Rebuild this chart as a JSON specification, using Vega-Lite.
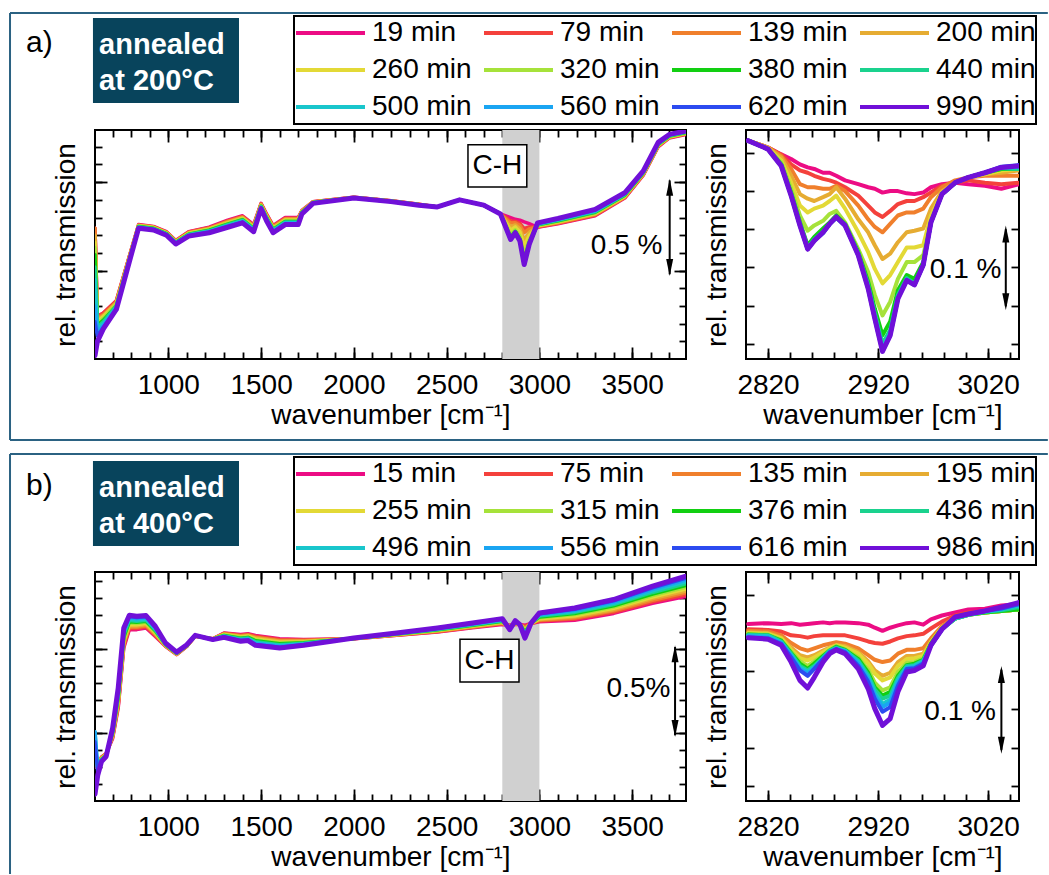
{
"$schema":"https://vega.github.io/schema/vega-lite/v6.json",
"padding":{"left":8,"top":10,"right":0,"bottom":0},
"background":"white",
"config":{
 "font":"Liberation Sans",
 "view":{"stroke":"black","strokeWidth":2},
 "axis":{"domain":false,"grid":false,"tickColor":"black","tickWidth":1.8,"labelFont":"Liberation Sans","labelFontSize":28,"labelColor":"black","titleFont":"Liberation Sans","titleFontSize":28,"titleFontWeight":"normal","titleColor":"black","labelFlush":false,"labelOverlap":false,"labelBound":false},
 "legend":{"strokeWidth":2},
 "text":{"font":"Liberation Sans","fontSize":28,"color":"black"}
},
"datasets":{
"namesA":[{"k":0,"s":"19 min"},{"k":1,"s":"79 min"},{"k":2,"s":"139 min"},{"k":3,"s":"200 min"},{"k":4,"s":"260 min"},{"k":5,"s":"320 min"},{"k":6,"s":"380 min"},{"k":7,"s":"440 min"},{"k":8,"s":"500 min"},{"k":9,"s":"560 min"},{"k":10,"s":"620 min"},{"k":11,"s":"990 min"}],
"namesB":[{"k":0,"s":"15 min"},{"k":1,"s":"75 min"},{"k":2,"s":"135 min"},{"k":3,"s":"195 min"},{"k":4,"s":"255 min"},{"k":5,"s":"315 min"},{"k":6,"s":"376 min"},{"k":7,"s":"436 min"},{"k":8,"s":"496 min"},{"k":9,"s":"556 min"},{"k":10,"s":"616 min"},{"k":11,"s":"986 min"}],
"bigA":[
{"k":0,"w":605,"v":740},{"k":1,"w":605,"v":740},{"k":2,"w":605,"v":740},{"k":3,"w":605,"v":700},{"k":4,"w":605,"v":660},{"k":5,"w":605,"v":630},{"k":6,"w":605,"v":590},{"k":7,"w":605,"v":520},{"k":8,"w":605,"v":450},{"k":9,"w":605,"v":300},{"k":10,"w":605,"v":210},{"k":11,"w":605,"v":20},
{"k":0,"w":618,"v":240},{"k":1,"w":618,"v":240},{"k":2,"w":618,"v":230},{"k":3,"w":618,"v":220},{"k":4,"w":618,"v":210},{"k":5,"w":618,"v":200},{"k":6,"w":618,"v":190},{"k":7,"w":618,"v":180},{"k":8,"w":618,"v":170},{"k":9,"w":618,"v":150},{"k":10,"w":618,"v":130},{"k":11,"w":618,"v":100},
{"k":0,"w":650,"v":260},{"k":1,"w":650,"v":260},{"k":2,"w":650,"v":250},{"k":3,"w":650,"v":245},{"k":4,"w":650,"v":240},{"k":5,"w":650,"v":230},{"k":6,"w":650,"v":220},{"k":7,"w":650,"v":210},{"k":8,"w":650,"v":200},{"k":9,"w":650,"v":190},{"k":10,"w":650,"v":180},{"k":11,"w":650,"v":170},
{"k":0,"w":720,"v":330},{"k":1,"w":720,"v":330},{"k":2,"w":720,"v":320},{"k":3,"w":720,"v":320},{"k":4,"w":720,"v":310},{"k":5,"w":720,"v":310},{"k":6,"w":720,"v":300},{"k":7,"w":720,"v":300},{"k":8,"w":720,"v":290},{"k":9,"w":720,"v":290},{"k":10,"w":720,"v":280},{"k":11,"w":720,"v":280},
{"k":0,"w":790,"v":580},{"k":1,"w":790,"v":580},{"k":2,"w":790,"v":580},{"k":3,"w":790,"v":570},{"k":4,"w":790,"v":570},{"k":5,"w":790,"v":570},{"k":6,"w":790,"v":560},{"k":7,"w":790,"v":560},{"k":8,"w":790,"v":560},{"k":9,"w":790,"v":550},{"k":10,"w":790,"v":550},{"k":11,"w":790,"v":550},
{"k":0,"w":840,"v":760},{"k":1,"w":840,"v":758},{"k":2,"w":840,"v":756},{"k":3,"w":840,"v":755},{"k":4,"w":840,"v":753},{"k":5,"w":840,"v":751},{"k":6,"w":840,"v":749},{"k":7,"w":840,"v":747},{"k":8,"w":840,"v":745},{"k":9,"w":840,"v":744},{"k":10,"w":840,"v":742},{"k":11,"w":840,"v":740},
{"k":0,"w":920,"v":750},{"k":1,"w":920,"v":748},{"k":2,"w":920,"v":746},{"k":3,"w":920,"v":745},{"k":4,"w":920,"v":743},{"k":5,"w":920,"v":741},{"k":6,"w":920,"v":739},{"k":7,"w":920,"v":737},{"k":8,"w":920,"v":735},{"k":9,"w":920,"v":734},{"k":10,"w":920,"v":732},{"k":11,"w":920,"v":730},
{"k":0,"w":990,"v":720},{"k":1,"w":990,"v":718},{"k":2,"w":990,"v":716},{"k":3,"w":990,"v":715},{"k":4,"w":990,"v":713},{"k":5,"w":990,"v":711},{"k":6,"w":990,"v":709},{"k":7,"w":990,"v":707},{"k":8,"w":990,"v":705},{"k":9,"w":990,"v":704},{"k":10,"w":990,"v":702},{"k":11,"w":990,"v":700},
{"k":0,"w":1040,"v":670},{"k":1,"w":1040,"v":668},{"k":2,"w":1040,"v":666},{"k":3,"w":1040,"v":665},{"k":4,"w":1040,"v":663},{"k":5,"w":1040,"v":661},{"k":6,"w":1040,"v":659},{"k":7,"w":1040,"v":657},{"k":8,"w":1040,"v":655},{"k":9,"w":1040,"v":654},{"k":10,"w":1040,"v":652},{"k":11,"w":1040,"v":650},
{"k":0,"w":1110,"v":720},{"k":1,"w":1110,"v":718},{"k":2,"w":1110,"v":715},{"k":3,"w":1110,"v":713},{"k":4,"w":1110,"v":711},{"k":5,"w":1110,"v":709},{"k":6,"w":1110,"v":706},{"k":7,"w":1110,"v":704},{"k":8,"w":1110,"v":702},{"k":9,"w":1110,"v":700},{"k":10,"w":1110,"v":697},{"k":11,"w":1110,"v":695},
{"k":0,"w":1220,"v":745},{"k":1,"w":1220,"v":742},{"k":2,"w":1220,"v":739},{"k":3,"w":1220,"v":737},{"k":4,"w":1220,"v":734},{"k":5,"w":1220,"v":731},{"k":6,"w":1220,"v":728},{"k":7,"w":1220,"v":725},{"k":8,"w":1220,"v":722},{"k":9,"w":1220,"v":720},{"k":10,"w":1220,"v":717},{"k":11,"w":1220,"v":714},
{"k":0,"w":1320,"v":785},{"k":1,"w":1320,"v":781},{"k":2,"w":1320,"v":778},{"k":3,"w":1320,"v":774},{"k":4,"w":1320,"v":770},{"k":5,"w":1320,"v":767},{"k":6,"w":1320,"v":763},{"k":7,"w":1320,"v":760},{"k":8,"w":1320,"v":756},{"k":9,"w":1320,"v":752},{"k":10,"w":1320,"v":749},{"k":11,"w":1320,"v":745},
{"k":0,"w":1400,"v":810},{"k":1,"w":1400,"v":806},{"k":2,"w":1400,"v":803},{"k":3,"w":1400,"v":799},{"k":4,"w":1400,"v":795},{"k":5,"w":1400,"v":792},{"k":6,"w":1400,"v":788},{"k":7,"w":1400,"v":785},{"k":8,"w":1400,"v":781},{"k":9,"w":1400,"v":777},{"k":10,"w":1400,"v":774},{"k":11,"w":1400,"v":770},
{"k":0,"w":1460,"v":760},{"k":1,"w":1460,"v":756},{"k":2,"w":1460,"v":753},{"k":3,"w":1460,"v":749},{"k":4,"w":1460,"v":745},{"k":5,"w":1460,"v":742},{"k":6,"w":1460,"v":738},{"k":7,"w":1460,"v":735},{"k":8,"w":1460,"v":731},{"k":9,"w":1460,"v":727},{"k":10,"w":1460,"v":724},{"k":11,"w":1460,"v":720},
{"k":0,"w":1500,"v":880},{"k":1,"w":1500,"v":877},{"k":2,"w":1500,"v":875},{"k":3,"w":1500,"v":872},{"k":4,"w":1500,"v":869},{"k":5,"w":1500,"v":866},{"k":6,"w":1500,"v":864},{"k":7,"w":1500,"v":861},{"k":8,"w":1500,"v":858},{"k":9,"w":1500,"v":855},{"k":10,"w":1500,"v":853},{"k":11,"w":1500,"v":850},
{"k":0,"w":1530,"v":820},{"k":1,"w":1530,"v":816},{"k":2,"w":1530,"v":813},{"k":3,"w":1530,"v":809},{"k":4,"w":1530,"v":805},{"k":5,"w":1530,"v":802},{"k":6,"w":1530,"v":798},{"k":7,"w":1530,"v":795},{"k":8,"w":1530,"v":791},{"k":9,"w":1530,"v":787},{"k":10,"w":1530,"v":784},{"k":11,"w":1530,"v":780},
{"k":0,"w":1565,"v":755},{"k":1,"w":1565,"v":751},{"k":2,"w":1565,"v":748},{"k":3,"w":1565,"v":744},{"k":4,"w":1565,"v":740},{"k":5,"w":1565,"v":737},{"k":6,"w":1565,"v":733},{"k":7,"w":1565,"v":730},{"k":8,"w":1565,"v":726},{"k":9,"w":1565,"v":722},{"k":10,"w":1565,"v":719},{"k":11,"w":1565,"v":714},
{"k":0,"w":1630,"v":800},{"k":1,"w":1630,"v":796},{"k":2,"w":1630,"v":793},{"k":3,"w":1630,"v":789},{"k":4,"w":1630,"v":785},{"k":5,"w":1630,"v":782},{"k":6,"w":1630,"v":778},{"k":7,"w":1630,"v":775},{"k":8,"w":1630,"v":771},{"k":9,"w":1630,"v":767},{"k":10,"w":1630,"v":764},{"k":11,"w":1630,"v":760},
{"k":0,"w":1700,"v":800},{"k":1,"w":1700,"v":796},{"k":2,"w":1700,"v":793},{"k":3,"w":1700,"v":789},{"k":4,"w":1700,"v":785},{"k":5,"w":1700,"v":782},{"k":6,"w":1700,"v":778},{"k":7,"w":1700,"v":775},{"k":8,"w":1700,"v":771},{"k":9,"w":1700,"v":767},{"k":10,"w":1700,"v":764},{"k":11,"w":1700,"v":760},
{"k":0,"w":1720,"v":840},{"k":1,"w":1720,"v":838},{"k":2,"w":1720,"v":836},{"k":3,"w":1720,"v":835},{"k":4,"w":1720,"v":833},{"k":5,"w":1720,"v":831},{"k":6,"w":1720,"v":829},{"k":7,"w":1720,"v":827},{"k":8,"w":1720,"v":825},{"k":9,"w":1720,"v":824},{"k":10,"w":1720,"v":822},{"k":11,"w":1720,"v":820},
{"k":0,"w":1780,"v":890},{"k":1,"w":1780,"v":889},{"k":2,"w":1780,"v":888},{"k":3,"w":1780,"v":887},{"k":4,"w":1780,"v":886},{"k":5,"w":1780,"v":885},{"k":6,"w":1780,"v":885},{"k":7,"w":1780,"v":884},{"k":8,"w":1780,"v":883},{"k":9,"w":1780,"v":882},{"k":10,"w":1780,"v":881},{"k":11,"w":1780,"v":880},
{"k":0,"w":2000,"v":915},{"k":1,"w":2000,"v":915},{"k":2,"w":2000,"v":914},{"k":3,"w":2000,"v":914},{"k":4,"w":2000,"v":913},{"k":5,"w":2000,"v":913},{"k":6,"w":2000,"v":912},{"k":7,"w":2000,"v":912},{"k":8,"w":2000,"v":911},{"k":9,"w":2000,"v":911},{"k":10,"w":2000,"v":910},{"k":11,"w":2000,"v":910},
{"k":0,"w":2200,"v":895},{"k":1,"w":2200,"v":895},{"k":2,"w":2200,"v":894},{"k":3,"w":2200,"v":894},{"k":4,"w":2200,"v":893},{"k":5,"w":2200,"v":893},{"k":6,"w":2200,"v":892},{"k":7,"w":2200,"v":892},{"k":8,"w":2200,"v":891},{"k":9,"w":2200,"v":891},{"k":10,"w":2200,"v":890},{"k":11,"w":2200,"v":890},
{"k":0,"w":2350,"v":875},{"k":1,"w":2350,"v":875},{"k":2,"w":2350,"v":874},{"k":3,"w":2350,"v":874},{"k":4,"w":2350,"v":873},{"k":5,"w":2350,"v":873},{"k":6,"w":2350,"v":872},{"k":7,"w":2350,"v":872},{"k":8,"w":2350,"v":871},{"k":9,"w":2350,"v":871},{"k":10,"w":2350,"v":870},{"k":11,"w":2350,"v":870},
{"k":0,"w":2450,"v":860},{"k":1,"w":2450,"v":860},{"k":2,"w":2450,"v":860},{"k":3,"w":2450,"v":860},{"k":4,"w":2450,"v":860},{"k":5,"w":2450,"v":860},{"k":6,"w":2450,"v":860},{"k":7,"w":2450,"v":860},{"k":8,"w":2450,"v":860},{"k":9,"w":2450,"v":860},{"k":10,"w":2450,"v":860},{"k":11,"w":2450,"v":860},
{"k":0,"w":2570,"v":900},{"k":1,"w":2570,"v":900},{"k":2,"w":2570,"v":900},{"k":3,"w":2570,"v":900},{"k":4,"w":2570,"v":900},{"k":5,"w":2570,"v":900},{"k":6,"w":2570,"v":900},{"k":7,"w":2570,"v":900},{"k":8,"w":2570,"v":900},{"k":9,"w":2570,"v":900},{"k":10,"w":2570,"v":900},{"k":11,"w":2570,"v":900},
{"k":0,"w":2700,"v":870},{"k":1,"w":2700,"v":870},{"k":2,"w":2700,"v":870},{"k":3,"w":2700,"v":870},{"k":4,"w":2700,"v":870},{"k":5,"w":2700,"v":870},{"k":6,"w":2700,"v":870},{"k":7,"w":2700,"v":870},{"k":8,"w":2700,"v":870},{"k":9,"w":2700,"v":870},{"k":10,"w":2700,"v":870},{"k":11,"w":2700,"v":870},
{"k":0,"w":2790,"v":820},{"k":1,"w":2790,"v":820},{"k":2,"w":2790,"v":820},{"k":3,"w":2790,"v":820},{"k":4,"w":2790,"v":820},{"k":5,"w":2790,"v":820},{"k":6,"w":2790,"v":820},{"k":7,"w":2790,"v":820},{"k":8,"w":2790,"v":820},{"k":9,"w":2790,"v":820},{"k":10,"w":2790,"v":820},{"k":11,"w":2790,"v":820},
{"k":0,"w":2845,"v":800},{"k":1,"w":2845,"v":781},{"k":2,"w":2845,"v":769},{"k":3,"w":2845,"v":748},{"k":4,"w":2845,"v":729},{"k":5,"w":2845,"v":704},{"k":6,"w":2845,"v":689},{"k":7,"w":2845,"v":682},{"k":8,"w":2845,"v":679},{"k":9,"w":2845,"v":677},{"k":10,"w":2845,"v":676},{"k":11,"w":2845,"v":676},
{"k":0,"w":2870,"v":790},{"k":1,"w":2870,"v":778},{"k":2,"w":2870,"v":771},{"k":3,"w":2870,"v":758},{"k":4,"w":2870,"v":747},{"k":5,"w":2870,"v":731},{"k":6,"w":2870,"v":722},{"k":7,"w":2870,"v":718},{"k":8,"w":2870,"v":716},{"k":9,"w":2870,"v":715},{"k":10,"w":2870,"v":714},{"k":11,"w":2870,"v":714},
{"k":0,"w":2895,"v":785},{"k":1,"w":2895,"v":767},{"k":2,"w":2895,"v":755},{"k":3,"w":2895,"v":736},{"k":4,"w":2895,"v":718},{"k":5,"w":2895,"v":694},{"k":6,"w":2895,"v":679},{"k":7,"w":2895,"v":673},{"k":8,"w":2895,"v":670},{"k":9,"w":2895,"v":668},{"k":10,"w":2895,"v":667},{"k":11,"w":2895,"v":667},
{"k":0,"w":2918,"v":775},{"k":1,"w":2918,"v":738},{"k":2,"w":2918,"v":715},{"k":3,"w":2918,"v":674},{"k":4,"w":2918,"v":637},{"k":5,"w":2918,"v":588},{"k":6,"w":2918,"v":558},{"k":7,"w":2918,"v":546},{"k":8,"w":2918,"v":540},{"k":9,"w":2918,"v":536},{"k":10,"w":2918,"v":534},{"k":11,"w":2918,"v":534},
{"k":0,"w":2945,"v":765},{"k":1,"w":2945,"v":747},{"k":2,"w":2945,"v":736},{"k":3,"w":2945,"v":716},{"k":4,"w":2945,"v":698},{"k":5,"w":2945,"v":674},{"k":6,"w":2945,"v":660},{"k":7,"w":2945,"v":654},{"k":8,"w":2945,"v":651},{"k":9,"w":2945,"v":649},{"k":10,"w":2945,"v":648},{"k":11,"w":2945,"v":648},
{"k":0,"w":2990,"v":745},{"k":1,"w":2990,"v":747},{"k":2,"w":2990,"v":750},{"k":3,"w":2990,"v":752},{"k":4,"w":2990,"v":754},{"k":5,"w":2990,"v":756},{"k":6,"w":2990,"v":759},{"k":7,"w":2990,"v":761},{"k":8,"w":2990,"v":763},{"k":9,"w":2990,"v":765},{"k":10,"w":2990,"v":768},{"k":11,"w":2990,"v":770},
{"k":0,"w":3100,"v":765},{"k":1,"w":3100,"v":768},{"k":2,"w":3100,"v":770},{"k":3,"w":3100,"v":773},{"k":4,"w":3100,"v":776},{"k":5,"w":3100,"v":779},{"k":6,"w":3100,"v":781},{"k":7,"w":3100,"v":784},{"k":8,"w":3100,"v":787},{"k":9,"w":3100,"v":790},{"k":10,"w":3100,"v":792},{"k":11,"w":3100,"v":795},
{"k":0,"w":3300,"v":810},{"k":1,"w":3300,"v":813},{"k":2,"w":3300,"v":817},{"k":3,"w":3300,"v":820},{"k":4,"w":3300,"v":823},{"k":5,"w":3300,"v":826},{"k":6,"w":3300,"v":830},{"k":7,"w":3300,"v":833},{"k":8,"w":3300,"v":836},{"k":9,"w":3300,"v":839},{"k":10,"w":3300,"v":843},{"k":11,"w":3300,"v":846},
{"k":0,"w":3460,"v":910},{"k":1,"w":3460,"v":913},{"k":2,"w":3460,"v":915},{"k":3,"w":3460,"v":918},{"k":4,"w":3460,"v":921},{"k":5,"w":3460,"v":924},{"k":6,"w":3460,"v":926},{"k":7,"w":3460,"v":929},{"k":8,"w":3460,"v":932},{"k":9,"w":3460,"v":935},{"k":10,"w":3460,"v":937},{"k":11,"w":3460,"v":940},
{"k":0,"w":3560,"v":1040},{"k":1,"w":3560,"v":1042},{"k":2,"w":3560,"v":1044},{"k":3,"w":3560,"v":1047},{"k":4,"w":3560,"v":1049},{"k":5,"w":3560,"v":1051},{"k":6,"w":3560,"v":1053},{"k":7,"w":3560,"v":1055},{"k":8,"w":3560,"v":1057},{"k":9,"w":3560,"v":1060},{"k":10,"w":3560,"v":1062},{"k":11,"w":3560,"v":1064},
{"k":0,"w":3640,"v":1200},{"k":1,"w":3640,"v":1202},{"k":2,"w":3640,"v":1205},{"k":3,"w":3640,"v":1207},{"k":4,"w":3640,"v":1209},{"k":5,"w":3640,"v":1211},{"k":6,"w":3640,"v":1214},{"k":7,"w":3640,"v":1216},{"k":8,"w":3640,"v":1218},{"k":9,"w":3640,"v":1220},{"k":10,"w":3640,"v":1223},{"k":11,"w":3640,"v":1225},
{"k":0,"w":3700,"v":1250},{"k":1,"w":3700,"v":1252},{"k":2,"w":3700,"v":1254},{"k":3,"w":3700,"v":1255},{"k":4,"w":3700,"v":1257},{"k":5,"w":3700,"v":1259},{"k":6,"w":3700,"v":1261},{"k":7,"w":3700,"v":1263},{"k":8,"w":3700,"v":1265},{"k":9,"w":3700,"v":1266},{"k":10,"w":3700,"v":1268},{"k":11,"w":3700,"v":1270},
{"k":0,"w":3790,"v":1270},{"k":1,"w":3790,"v":1272},{"k":2,"w":3790,"v":1274},{"k":3,"w":3790,"v":1275},{"k":4,"w":3790,"v":1277},{"k":5,"w":3790,"v":1279},{"k":6,"w":3790,"v":1281},{"k":7,"w":3790,"v":1283},{"k":8,"w":3790,"v":1285},{"k":9,"w":3790,"v":1286},{"k":10,"w":3790,"v":1288},{"k":11,"w":3790,"v":1290}
],
"smallA":[
{"k":0,"w":2802,"v":316},{"k":1,"w":2802,"v":316},{"k":2,"w":2802,"v":316},{"k":3,"w":2802,"v":316},{"k":4,"w":2802,"v":316},{"k":5,"w":2802,"v":316},{"k":6,"w":2802,"v":316},{"k":7,"w":2802,"v":316},{"k":8,"w":2802,"v":316},{"k":9,"w":2802,"v":316},{"k":10,"w":2802,"v":316},{"k":11,"w":2802,"v":316},
{"k":0,"w":2820,"v":307},{"k":1,"w":2820,"v":307},{"k":2,"w":2820,"v":307},{"k":3,"w":2820,"v":307},{"k":4,"w":2820,"v":306},{"k":5,"w":2820,"v":305},{"k":6,"w":2820,"v":305},{"k":7,"w":2820,"v":305},{"k":8,"w":2820,"v":305},{"k":9,"w":2820,"v":305},{"k":10,"w":2820,"v":305},{"k":11,"w":2820,"v":305},
{"k":0,"w":2832,"v":298},{"k":1,"w":2832,"v":298},{"k":2,"w":2832,"v":296},{"k":3,"w":2832,"v":294},{"k":4,"w":2832,"v":290},{"k":5,"w":2832,"v":288},{"k":6,"w":2832,"v":285},{"k":7,"w":2832,"v":284},{"k":8,"w":2832,"v":283},{"k":9,"w":2832,"v":283},{"k":10,"w":2832,"v":283},{"k":11,"w":2832,"v":283},
{"k":0,"w":2841,"v":292},{"k":1,"w":2841,"v":285},{"k":2,"w":2841,"v":279},{"k":3,"w":2841,"v":270},{"k":4,"w":2841,"v":261},{"k":5,"w":2841,"v":253},{"k":6,"w":2841,"v":248},{"k":7,"w":2841,"v":246},{"k":8,"w":2841,"v":245},{"k":9,"w":2841,"v":244},{"k":10,"w":2841,"v":244},{"k":11,"w":2841,"v":244},
{"k":0,"w":2849,"v":285},{"k":1,"w":2849,"v":277},{"k":2,"w":2849,"v":259},{"k":3,"w":2849,"v":246},{"k":4,"w":2849,"v":231},{"k":5,"w":2849,"v":218},{"k":6,"w":2849,"v":209},{"k":7,"w":2849,"v":207},{"k":8,"w":2849,"v":206},{"k":9,"w":2849,"v":205},{"k":10,"w":2849,"v":205},{"k":11,"w":2849,"v":205},
{"k":0,"w":2856,"v":281},{"k":1,"w":2856,"v":274},{"k":2,"w":2856,"v":255},{"k":3,"w":2856,"v":240},{"k":4,"w":2856,"v":222},{"k":5,"w":2856,"v":198},{"k":6,"w":2856,"v":179},{"k":7,"w":2856,"v":176},{"k":8,"w":2856,"v":175},{"k":9,"w":2856,"v":174},{"k":10,"w":2856,"v":174},{"k":11,"w":2856,"v":174},
{"k":0,"w":2862,"v":279},{"k":1,"w":2862,"v":270},{"k":2,"w":2862,"v":255},{"k":3,"w":2862,"v":237},{"k":4,"w":2862,"v":227},{"k":5,"w":2862,"v":205},{"k":6,"w":2862,"v":190},{"k":7,"w":2862,"v":187},{"k":8,"w":2862,"v":186},{"k":9,"w":2862,"v":185},{"k":10,"w":2862,"v":185},{"k":11,"w":2862,"v":185},
{"k":0,"w":2870,"v":274},{"k":1,"w":2870,"v":266},{"k":2,"w":2870,"v":253},{"k":3,"w":2870,"v":242},{"k":4,"w":2870,"v":231},{"k":5,"w":2870,"v":211},{"k":6,"w":2870,"v":201},{"k":7,"w":2870,"v":197},{"k":8,"w":2870,"v":196},{"k":9,"w":2870,"v":195},{"k":10,"w":2870,"v":195},{"k":11,"w":2870,"v":196},
{"k":0,"w":2876,"v":274},{"k":1,"w":2876,"v":264},{"k":2,"w":2876,"v":253},{"k":3,"w":2876,"v":246},{"k":4,"w":2876,"v":237},{"k":5,"w":2876,"v":220},{"k":6,"w":2876,"v":209},{"k":7,"w":2876,"v":207},{"k":8,"w":2876,"v":207},{"k":9,"w":2876,"v":207},{"k":10,"w":2876,"v":207},{"k":11,"w":2876,"v":207},
{"k":0,"w":2882,"v":270},{"k":1,"w":2882,"v":261},{"k":2,"w":2882,"v":257},{"k":3,"w":2882,"v":255},{"k":4,"w":2882,"v":244},{"k":5,"w":2882,"v":224},{"k":6,"w":2882,"v":218},{"k":7,"w":2882,"v":216},{"k":8,"w":2882,"v":215},{"k":9,"w":2882,"v":215},{"k":10,"w":2882,"v":216},{"k":11,"w":2882,"v":216},
{"k":0,"w":2890,"v":264},{"k":1,"w":2890,"v":255},{"k":2,"w":2890,"v":250},{"k":3,"w":2890,"v":240},{"k":4,"w":2890,"v":227},{"k":5,"w":2890,"v":209},{"k":6,"w":2890,"v":207},{"k":7,"w":2890,"v":206},{"k":8,"w":2890,"v":205},{"k":9,"w":2890,"v":205},{"k":10,"w":2890,"v":205},{"k":11,"w":2890,"v":205},
{"k":0,"w":2902,"v":259},{"k":1,"w":2902,"v":244},{"k":2,"w":2902,"v":231},{"k":3,"w":2902,"v":213},{"k":4,"w":2902,"v":196},{"k":5,"w":2902,"v":174},{"k":6,"w":2902,"v":170},{"k":7,"w":2902,"v":168},{"k":8,"w":2902,"v":167},{"k":9,"w":2902,"v":166},{"k":10,"w":2902,"v":166},{"k":11,"w":2902,"v":166},
{"k":0,"w":2911,"v":255},{"k":1,"w":2911,"v":231},{"k":2,"w":2911,"v":213},{"k":3,"w":2911,"v":196},{"k":4,"w":2911,"v":170},{"k":5,"w":2911,"v":144},{"k":6,"w":2911,"v":131},{"k":7,"w":2911,"v":127},{"k":8,"w":2911,"v":124},{"k":9,"w":2911,"v":123},{"k":10,"w":2911,"v":122},{"k":11,"w":2911,"v":122},
{"k":0,"w":2917,"v":253},{"k":1,"w":2917,"v":222},{"k":2,"w":2917,"v":203},{"k":3,"w":2917,"v":179},{"k":4,"w":2917,"v":148},{"k":5,"w":2917,"v":114},{"k":6,"w":2917,"v":96},{"k":7,"w":2917,"v":90},{"k":8,"w":2917,"v":87},{"k":9,"w":2917,"v":84},{"k":10,"w":2917,"v":83},{"k":11,"w":2917,"v":83},
{"k":0,"w":2924,"v":248},{"k":1,"w":2924,"v":216},{"k":2,"w":2924,"v":196},{"k":3,"w":2924,"v":161},{"k":4,"w":2924,"v":129},{"k":5,"w":2924,"v":87},{"k":6,"w":2924,"v":61},{"k":7,"w":2924,"v":50},{"k":8,"w":2924,"v":44},{"k":9,"w":2924,"v":41},{"k":10,"w":2924,"v":40},{"k":11,"w":2924,"v":40},
{"k":0,"w":2931,"v":250},{"k":1,"w":2931,"v":224},{"k":2,"w":2931,"v":207},{"k":3,"w":2931,"v":168},{"k":4,"w":2931,"v":140},{"k":5,"w":2931,"v":105},{"k":6,"w":2931,"v":79},{"k":7,"w":2931,"v":68},{"k":8,"w":2931,"v":65},{"k":9,"w":2931,"v":62},{"k":10,"w":2931,"v":61},{"k":11,"w":2931,"v":61},
{"k":0,"w":2938,"v":250},{"k":1,"w":2938,"v":233},{"k":2,"w":2938,"v":218},{"k":3,"w":2938,"v":183},{"k":4,"w":2938,"v":157},{"k":5,"w":2938,"v":135},{"k":6,"w":2938,"v":120},{"k":7,"w":2938,"v":114},{"k":8,"w":2938,"v":111},{"k":9,"w":2938,"v":110},{"k":10,"w":2938,"v":109},{"k":11,"w":2938,"v":109},
{"k":0,"w":2946,"v":247},{"k":1,"w":2946,"v":237},{"k":2,"w":2946,"v":222},{"k":3,"w":2946,"v":196},{"k":4,"w":2946,"v":176},{"k":5,"w":2946,"v":157},{"k":6,"w":2946,"v":140},{"k":7,"w":2946,"v":136},{"k":8,"w":2946,"v":134},{"k":9,"w":2946,"v":134},{"k":10,"w":2946,"v":133},{"k":11,"w":2946,"v":133},
{"k":0,"w":2953,"v":246},{"k":1,"w":2953,"v":237},{"k":2,"w":2953,"v":222},{"k":3,"w":2953,"v":198},{"k":4,"w":2953,"v":176},{"k":5,"w":2953,"v":157},{"k":6,"w":2953,"v":135},{"k":7,"w":2953,"v":129},{"k":8,"w":2953,"v":127},{"k":9,"w":2953,"v":127},{"k":10,"w":2953,"v":127},{"k":11,"w":2953,"v":127},
{"k":0,"w":2961,"v":248},{"k":1,"w":2961,"v":242},{"k":2,"w":2961,"v":227},{"k":3,"w":2961,"v":201},{"k":4,"w":2961,"v":179},{"k":5,"w":2961,"v":166},{"k":6,"w":2961,"v":157},{"k":7,"w":2961,"v":153},{"k":8,"w":2961,"v":153},{"k":9,"w":2961,"v":153},{"k":10,"w":2961,"v":153},{"k":11,"w":2961,"v":153},
{"k":0,"w":2968,"v":255},{"k":1,"w":2968,"v":248},{"k":2,"w":2968,"v":242},{"k":3,"w":2968,"v":227},{"k":4,"w":2968,"v":218},{"k":5,"w":2968,"v":209},{"k":6,"w":2968,"v":209},{"k":7,"w":2968,"v":209},{"k":8,"w":2968,"v":209},{"k":9,"w":2968,"v":209},{"k":10,"w":2968,"v":209},{"k":11,"w":2968,"v":209},
{"k":0,"w":2978,"v":259},{"k":1,"w":2978,"v":257},{"k":2,"w":2978,"v":255},{"k":3,"w":2978,"v":250},{"k":4,"w":2978,"v":248},{"k":5,"w":2978,"v":246},{"k":6,"w":2978,"v":246},{"k":7,"w":2978,"v":246},{"k":8,"w":2978,"v":246},{"k":9,"w":2978,"v":246},{"k":10,"w":2978,"v":246},{"k":11,"w":2978,"v":246},
{"k":0,"w":2990,"v":261},{"k":1,"w":2990,"v":261},{"k":2,"w":2990,"v":264},{"k":3,"w":2990,"v":261},{"k":4,"w":2990,"v":261},{"k":5,"w":2990,"v":261},{"k":6,"w":2990,"v":261},{"k":7,"w":2990,"v":261},{"k":8,"w":2990,"v":261},{"k":9,"w":2990,"v":261},{"k":10,"w":2990,"v":261},{"k":11,"w":2990,"v":261},
{"k":0,"w":3002,"v":259},{"k":1,"w":3002,"v":264},{"k":2,"w":3002,"v":268},{"k":3,"w":3002,"v":268},{"k":4,"w":3002,"v":268},{"k":5,"w":3002,"v":268},{"k":6,"w":3002,"v":268},{"k":7,"w":3002,"v":268},{"k":8,"w":3002,"v":268},{"k":9,"w":3002,"v":268},{"k":10,"w":3002,"v":268},{"k":11,"w":3002,"v":268},
{"k":0,"w":3017,"v":257},{"k":1,"w":3017,"v":261},{"k":2,"w":3017,"v":270},{"k":3,"w":3017,"v":272},{"k":4,"w":3017,"v":272},{"k":5,"w":3017,"v":274},{"k":6,"w":3017,"v":274},{"k":7,"w":3017,"v":274},{"k":8,"w":3017,"v":274},{"k":9,"w":3017,"v":274},{"k":10,"w":3017,"v":274},{"k":11,"w":3017,"v":274},
{"k":0,"w":3032,"v":253},{"k":1,"w":3032,"v":259},{"k":2,"w":3032,"v":270},{"k":3,"w":3032,"v":274},{"k":4,"w":3032,"v":277},{"k":5,"w":3032,"v":279},{"k":6,"w":3032,"v":279},{"k":7,"w":3032,"v":280},{"k":8,"w":3032,"v":281},{"k":9,"w":3032,"v":281},{"k":10,"w":3032,"v":282},{"k":11,"w":3032,"v":281},
{"k":0,"w":3048,"v":259},{"k":1,"w":3048,"v":261},{"k":2,"w":3048,"v":270},{"k":3,"w":3048,"v":277},{"k":4,"w":3048,"v":279},{"k":5,"w":3048,"v":281},{"k":6,"w":3048,"v":279},{"k":7,"w":3048,"v":279},{"k":8,"w":3048,"v":281},{"k":9,"w":3048,"v":282},{"k":10,"w":3048,"v":284},{"k":11,"w":3048,"v":283}
],
"bigB":[
{"k":0,"w":605,"v":300},{"k":1,"w":605,"v":320},{"k":2,"w":605,"v":340},{"k":3,"w":605,"v":360},{"k":4,"w":605,"v":380},{"k":5,"w":605,"v":400},{"k":6,"w":605,"v":420},{"k":7,"w":605,"v":450},{"k":8,"w":605,"v":510},{"k":9,"w":605,"v":510},{"k":10,"w":605,"v":450},{"k":11,"w":605,"v":140},
{"k":0,"w":620,"v":300},{"k":1,"w":620,"v":300},{"k":2,"w":620,"v":300},{"k":3,"w":620,"v":300},{"k":4,"w":620,"v":300},{"k":5,"w":620,"v":300},{"k":6,"w":620,"v":300},{"k":7,"w":620,"v":290},{"k":8,"w":620,"v":290},{"k":9,"w":620,"v":280},{"k":10,"w":620,"v":270},{"k":11,"w":620,"v":254},
{"k":0,"w":640,"v":360},{"k":1,"w":640,"v":360},{"k":2,"w":640,"v":355},{"k":3,"w":640,"v":355},{"k":4,"w":640,"v":350},{"k":5,"w":640,"v":350},{"k":6,"w":640,"v":345},{"k":7,"w":640,"v":345},{"k":8,"w":640,"v":340},{"k":9,"w":640,"v":340},{"k":10,"w":640,"v":335},{"k":11,"w":640,"v":333},
{"k":0,"w":665,"v":380},{"k":1,"w":665,"v":380},{"k":2,"w":665,"v":378},{"k":3,"w":665,"v":376},{"k":4,"w":665,"v":374},{"k":5,"w":665,"v":372},{"k":6,"w":665,"v":370},{"k":7,"w":665,"v":368},{"k":8,"w":665,"v":366},{"k":9,"w":665,"v":365},{"k":10,"w":665,"v":364},{"k":11,"w":665,"v":363},
{"k":0,"w":700,"v":470},{"k":1,"w":700,"v":476},{"k":2,"w":700,"v":482},{"k":3,"w":700,"v":487},{"k":4,"w":700,"v":493},{"k":5,"w":700,"v":498},{"k":6,"w":700,"v":504},{"k":7,"w":700,"v":509},{"k":8,"w":700,"v":515},{"k":9,"w":700,"v":520},{"k":10,"w":700,"v":526},{"k":11,"w":700,"v":531},
{"k":0,"w":730,"v":650},{"k":1,"w":730,"v":661},{"k":2,"w":730,"v":671},{"k":3,"w":730,"v":682},{"k":4,"w":730,"v":693},{"k":5,"w":730,"v":704},{"k":6,"w":730,"v":714},{"k":7,"w":730,"v":725},{"k":8,"w":730,"v":736},{"k":9,"w":730,"v":747},{"k":10,"w":730,"v":757},{"k":11,"w":730,"v":768},
{"k":0,"w":760,"v":1005},{"k":1,"w":760,"v":1016},{"k":2,"w":760,"v":1027},{"k":3,"w":760,"v":1037},{"k":4,"w":760,"v":1048},{"k":5,"w":760,"v":1059},{"k":6,"w":760,"v":1070},{"k":7,"w":760,"v":1081},{"k":8,"w":760,"v":1092},{"k":9,"w":760,"v":1102},{"k":10,"w":760,"v":1113},{"k":11,"w":760,"v":1124},
{"k":0,"w":790,"v":1114},{"k":1,"w":790,"v":1122},{"k":2,"w":790,"v":1129},{"k":3,"w":790,"v":1137},{"k":4,"w":790,"v":1145},{"k":5,"w":790,"v":1153},{"k":6,"w":790,"v":1160},{"k":7,"w":790,"v":1168},{"k":8,"w":790,"v":1176},{"k":9,"w":790,"v":1184},{"k":10,"w":790,"v":1191},{"k":11,"w":790,"v":1199},
{"k":0,"w":830,"v":1114},{"k":1,"w":830,"v":1121},{"k":2,"w":830,"v":1128},{"k":3,"w":830,"v":1136},{"k":4,"w":830,"v":1143},{"k":5,"w":830,"v":1150},{"k":6,"w":830,"v":1157},{"k":7,"w":830,"v":1164},{"k":8,"w":830,"v":1171},{"k":9,"w":830,"v":1179},{"k":10,"w":830,"v":1186},{"k":11,"w":830,"v":1193},
{"k":0,"w":880,"v":1124},{"k":1,"w":880,"v":1131},{"k":2,"w":880,"v":1137},{"k":3,"w":880,"v":1144},{"k":4,"w":880,"v":1151},{"k":5,"w":880,"v":1157},{"k":6,"w":880,"v":1164},{"k":7,"w":880,"v":1170},{"k":8,"w":880,"v":1177},{"k":9,"w":880,"v":1184},{"k":10,"w":880,"v":1190},{"k":11,"w":880,"v":1197},
{"k":0,"w":930,"v":1074},{"k":1,"w":930,"v":1079},{"k":2,"w":930,"v":1085},{"k":3,"w":930,"v":1090},{"k":4,"w":930,"v":1096},{"k":5,"w":930,"v":1101},{"k":6,"w":930,"v":1107},{"k":7,"w":930,"v":1112},{"k":8,"w":930,"v":1118},{"k":9,"w":930,"v":1123},{"k":10,"w":930,"v":1129},{"k":11,"w":930,"v":1134},
{"k":0,"w":985,"v":1015},{"k":1,"w":985,"v":1017},{"k":2,"w":985,"v":1019},{"k":3,"w":985,"v":1020},{"k":4,"w":985,"v":1022},{"k":5,"w":985,"v":1024},{"k":6,"w":985,"v":1026},{"k":7,"w":985,"v":1028},{"k":8,"w":985,"v":1030},{"k":9,"w":985,"v":1031},{"k":10,"w":985,"v":1033},{"k":11,"w":985,"v":1035},
{"k":0,"w":1045,"v":966},{"k":1,"w":1045,"v":967},{"k":2,"w":1045,"v":969},{"k":3,"w":1045,"v":970},{"k":4,"w":1045,"v":971},{"k":5,"w":1045,"v":973},{"k":6,"w":1045,"v":974},{"k":7,"w":1045,"v":976},{"k":8,"w":1045,"v":977},{"k":9,"w":1045,"v":978},{"k":10,"w":1045,"v":980},{"k":11,"w":1045,"v":981},
{"k":0,"w":1100,"v":1015},{"k":1,"w":1100,"v":1016},{"k":2,"w":1100,"v":1017},{"k":3,"w":1100,"v":1018},{"k":4,"w":1100,"v":1019},{"k":5,"w":1100,"v":1020},{"k":6,"w":1100,"v":1020},{"k":7,"w":1100,"v":1021},{"k":8,"w":1100,"v":1022},{"k":9,"w":1100,"v":1023},{"k":10,"w":1100,"v":1024},{"k":11,"w":1100,"v":1025},
{"k":0,"w":1145,"v":1075},{"k":1,"w":1145,"v":1075},{"k":2,"w":1145,"v":1076},{"k":3,"w":1145,"v":1076},{"k":4,"w":1145,"v":1077},{"k":5,"w":1145,"v":1077},{"k":6,"w":1145,"v":1078},{"k":7,"w":1145,"v":1078},{"k":8,"w":1145,"v":1079},{"k":9,"w":1145,"v":1079},{"k":10,"w":1145,"v":1080},{"k":11,"w":1145,"v":1080},
{"k":0,"w":1240,"v":1060},{"k":1,"w":1240,"v":1060},{"k":2,"w":1240,"v":1059},{"k":3,"w":1240,"v":1059},{"k":4,"w":1240,"v":1058},{"k":5,"w":1240,"v":1058},{"k":6,"w":1240,"v":1057},{"k":7,"w":1240,"v":1057},{"k":8,"w":1240,"v":1056},{"k":9,"w":1240,"v":1056},{"k":10,"w":1240,"v":1055},{"k":11,"w":1240,"v":1055},
{"k":0,"w":1300,"v":1094},{"k":1,"w":1300,"v":1092},{"k":2,"w":1300,"v":1089},{"k":3,"w":1300,"v":1087},{"k":4,"w":1300,"v":1085},{"k":5,"w":1300,"v":1082},{"k":6,"w":1300,"v":1080},{"k":7,"w":1300,"v":1077},{"k":8,"w":1300,"v":1075},{"k":9,"w":1300,"v":1073},{"k":10,"w":1300,"v":1070},{"k":11,"w":1300,"v":1068},
{"k":0,"w":1390,"v":1085},{"k":1,"w":1390,"v":1081},{"k":2,"w":1390,"v":1078},{"k":3,"w":1390,"v":1074},{"k":4,"w":1390,"v":1070},{"k":5,"w":1390,"v":1067},{"k":6,"w":1390,"v":1063},{"k":7,"w":1390,"v":1060},{"k":8,"w":1390,"v":1056},{"k":9,"w":1390,"v":1052},{"k":10,"w":1390,"v":1049},{"k":11,"w":1390,"v":1045},
{"k":0,"w":1430,"v":1090},{"k":1,"w":1430,"v":1086},{"k":2,"w":1430,"v":1083},{"k":3,"w":1430,"v":1079},{"k":4,"w":1430,"v":1075},{"k":5,"w":1430,"v":1071},{"k":6,"w":1430,"v":1068},{"k":7,"w":1430,"v":1064},{"k":8,"w":1430,"v":1060},{"k":9,"w":1430,"v":1056},{"k":10,"w":1430,"v":1053},{"k":11,"w":1430,"v":1049},
{"k":0,"w":1470,"v":1080},{"k":1,"w":1470,"v":1075},{"k":2,"w":1470,"v":1069},{"k":3,"w":1470,"v":1064},{"k":4,"w":1470,"v":1059},{"k":5,"w":1470,"v":1053},{"k":6,"w":1470,"v":1048},{"k":7,"w":1470,"v":1042},{"k":8,"w":1470,"v":1037},{"k":9,"w":1470,"v":1032},{"k":10,"w":1470,"v":1026},{"k":11,"w":1470,"v":1021},
{"k":0,"w":1600,"v":1060},{"k":1,"w":1600,"v":1055},{"k":2,"w":1600,"v":1050},{"k":3,"w":1600,"v":1045},{"k":4,"w":1600,"v":1040},{"k":5,"w":1600,"v":1035},{"k":6,"w":1600,"v":1030},{"k":7,"w":1600,"v":1025},{"k":8,"w":1600,"v":1020},{"k":9,"w":1600,"v":1015},{"k":10,"w":1600,"v":1010},{"k":11,"w":1600,"v":1005},
{"k":0,"w":1730,"v":1055},{"k":1,"w":1730,"v":1052},{"k":2,"w":1730,"v":1049},{"k":3,"w":1730,"v":1046},{"k":4,"w":1730,"v":1043},{"k":5,"w":1730,"v":1040},{"k":6,"w":1730,"v":1036},{"k":7,"w":1730,"v":1033},{"k":8,"w":1730,"v":1030},{"k":9,"w":1730,"v":1027},{"k":10,"w":1730,"v":1024},{"k":11,"w":1730,"v":1021},
{"k":0,"w":2000,"v":1060},{"k":1,"w":2000,"v":1060},{"k":2,"w":2000,"v":1061},{"k":3,"w":2000,"v":1061},{"k":4,"w":2000,"v":1061},{"k":5,"w":2000,"v":1062},{"k":6,"w":2000,"v":1062},{"k":7,"w":2000,"v":1063},{"k":8,"w":2000,"v":1063},{"k":9,"w":2000,"v":1063},{"k":10,"w":2000,"v":1064},{"k":11,"w":2000,"v":1064},
{"k":0,"w":2230,"v":1080},{"k":1,"w":2230,"v":1081},{"k":2,"w":2230,"v":1083},{"k":3,"w":2230,"v":1084},{"k":4,"w":2230,"v":1085},{"k":5,"w":2230,"v":1086},{"k":6,"w":2230,"v":1088},{"k":7,"w":2230,"v":1089},{"k":8,"w":2230,"v":1090},{"k":9,"w":2230,"v":1091},{"k":10,"w":2230,"v":1093},{"k":11,"w":2230,"v":1094},
{"k":0,"w":2450,"v":1100},{"k":1,"w":2450,"v":1102},{"k":2,"w":2450,"v":1104},{"k":3,"w":2450,"v":1107},{"k":4,"w":2450,"v":1109},{"k":5,"w":2450,"v":1111},{"k":6,"w":2450,"v":1113},{"k":7,"w":2450,"v":1115},{"k":8,"w":2450,"v":1117},{"k":9,"w":2450,"v":1120},{"k":10,"w":2450,"v":1122},{"k":11,"w":2450,"v":1124},
{"k":0,"w":2640,"v":1125},{"k":1,"w":2640,"v":1128},{"k":2,"w":2640,"v":1130},{"k":3,"w":2640,"v":1133},{"k":4,"w":2640,"v":1135},{"k":5,"w":2640,"v":1138},{"k":6,"w":2640,"v":1140},{"k":7,"w":2640,"v":1143},{"k":8,"w":2640,"v":1145},{"k":9,"w":2640,"v":1148},{"k":10,"w":2640,"v":1150},{"k":11,"w":2640,"v":1153},
{"k":0,"w":2800,"v":1145},{"k":1,"w":2800,"v":1148},{"k":2,"w":2800,"v":1151},{"k":3,"w":2800,"v":1154},{"k":4,"w":2800,"v":1157},{"k":5,"w":2800,"v":1160},{"k":6,"w":2800,"v":1164},{"k":7,"w":2800,"v":1167},{"k":8,"w":2800,"v":1170},{"k":9,"w":2800,"v":1173},{"k":10,"w":2800,"v":1176},{"k":11,"w":2800,"v":1179},
{"k":0,"w":2840,"v":1140},{"k":1,"w":2840,"v":1138},{"k":2,"w":2840,"v":1135},{"k":3,"w":2840,"v":1133},{"k":4,"w":2840,"v":1131},{"k":5,"w":2840,"v":1128},{"k":6,"w":2840,"v":1126},{"k":7,"w":2840,"v":1123},{"k":8,"w":2840,"v":1121},{"k":9,"w":2840,"v":1119},{"k":10,"w":2840,"v":1116},{"k":11,"w":2840,"v":1114},
{"k":0,"w":2870,"v":1145},{"k":1,"w":2870,"v":1147},{"k":2,"w":2870,"v":1149},{"k":3,"w":2870,"v":1151},{"k":4,"w":2870,"v":1153},{"k":5,"w":2870,"v":1155},{"k":6,"w":2870,"v":1157},{"k":7,"w":2870,"v":1159},{"k":8,"w":2870,"v":1161},{"k":9,"w":2870,"v":1163},{"k":10,"w":2870,"v":1165},{"k":11,"w":2870,"v":1167},
{"k":0,"w":2895,"v":1145},{"k":1,"w":2895,"v":1145},{"k":2,"w":2895,"v":1145},{"k":3,"w":2895,"v":1145},{"k":4,"w":2895,"v":1145},{"k":5,"w":2895,"v":1145},{"k":6,"w":2895,"v":1145},{"k":7,"w":2895,"v":1144},{"k":8,"w":2895,"v":1144},{"k":9,"w":2895,"v":1144},{"k":10,"w":2895,"v":1144},{"k":11,"w":2895,"v":1144},
{"k":0,"w":2922,"v":1140},{"k":1,"w":2922,"v":1133},{"k":2,"w":2922,"v":1126},{"k":3,"w":2922,"v":1119},{"k":4,"w":2922,"v":1112},{"k":5,"w":2922,"v":1105},{"k":6,"w":2922,"v":1099},{"k":7,"w":2922,"v":1092},{"k":8,"w":2922,"v":1085},{"k":9,"w":2922,"v":1078},{"k":10,"w":2922,"v":1071},{"k":11,"w":2922,"v":1064},
{"k":0,"w":2955,"v":1150},{"k":1,"w":2955,"v":1150},{"k":2,"w":2955,"v":1151},{"k":3,"w":2955,"v":1151},{"k":4,"w":2955,"v":1151},{"k":5,"w":2955,"v":1151},{"k":6,"w":2955,"v":1152},{"k":7,"w":2955,"v":1152},{"k":8,"w":2955,"v":1152},{"k":9,"w":2955,"v":1152},{"k":10,"w":2955,"v":1153},{"k":11,"w":2955,"v":1153},
{"k":0,"w":3000,"v":1160},{"k":1,"w":3000,"v":1165},{"k":2,"w":3000,"v":1170},{"k":3,"w":3000,"v":1174},{"k":4,"w":3000,"v":1179},{"k":5,"w":3000,"v":1184},{"k":6,"w":3000,"v":1189},{"k":7,"w":3000,"v":1194},{"k":8,"w":3000,"v":1199},{"k":9,"w":3000,"v":1203},{"k":10,"w":3000,"v":1208},{"k":11,"w":3000,"v":1213},
{"k":0,"w":3190,"v":1170},{"k":1,"w":3190,"v":1177},{"k":2,"w":3190,"v":1183},{"k":3,"w":3190,"v":1190},{"k":4,"w":3190,"v":1196},{"k":5,"w":3190,"v":1203},{"k":6,"w":3190,"v":1209},{"k":7,"w":3190,"v":1216},{"k":8,"w":3190,"v":1222},{"k":9,"w":3190,"v":1229},{"k":10,"w":3190,"v":1235},{"k":11,"w":3190,"v":1242},
{"k":0,"w":3400,"v":1210},{"k":1,"w":3400,"v":1217},{"k":2,"w":3400,"v":1225},{"k":3,"w":3400,"v":1232},{"k":4,"w":3400,"v":1240},{"k":5,"w":3400,"v":1247},{"k":6,"w":3400,"v":1255},{"k":7,"w":3400,"v":1262},{"k":8,"w":3400,"v":1270},{"k":9,"w":3400,"v":1277},{"k":10,"w":3400,"v":1285},{"k":11,"w":3400,"v":1292},
{"k":0,"w":3610,"v":1270},{"k":1,"w":3610,"v":1279},{"k":2,"w":3610,"v":1288},{"k":3,"w":3610,"v":1298},{"k":4,"w":3610,"v":1307},{"k":5,"w":3610,"v":1316},{"k":6,"w":3610,"v":1325},{"k":7,"w":3610,"v":1334},{"k":8,"w":3610,"v":1343},{"k":9,"w":3610,"v":1353},{"k":10,"w":3610,"v":1362},{"k":11,"w":3610,"v":1371},
{"k":0,"w":3790,"v":1310},{"k":1,"w":3790,"v":1321},{"k":2,"w":3790,"v":1332},{"k":3,"w":3790,"v":1343},{"k":4,"w":3790,"v":1354},{"k":5,"w":3790,"v":1365},{"k":6,"w":3790,"v":1375},{"k":7,"w":3790,"v":1386},{"k":8,"w":3790,"v":1397},{"k":9,"w":3790,"v":1408},{"k":10,"w":3790,"v":1419},{"k":11,"w":3790,"v":1430}
],
"smallB":[
{"k":0,"w":2802,"v":262},{"k":1,"w":2802,"v":255},{"k":2,"w":2802,"v":253},{"k":3,"w":2802,"v":251},{"k":4,"w":2802,"v":250},{"k":5,"w":2802,"v":249},{"k":6,"w":2802,"v":248},{"k":7,"w":2802,"v":247},{"k":8,"w":2802,"v":247},{"k":9,"w":2802,"v":246},{"k":10,"w":2802,"v":244},{"k":11,"w":2802,"v":244},
{"k":0,"w":2820,"v":263},{"k":1,"w":2820,"v":254},{"k":2,"w":2820,"v":252},{"k":3,"w":2820,"v":250},{"k":4,"w":2820,"v":249},{"k":5,"w":2820,"v":248},{"k":6,"w":2820,"v":247},{"k":7,"w":2820,"v":247},{"k":8,"w":2820,"v":246},{"k":9,"w":2820,"v":244},{"k":10,"w":2820,"v":243},{"k":11,"w":2820,"v":242},
{"k":0,"w":2832,"v":262},{"k":1,"w":2832,"v":252},{"k":2,"w":2832,"v":247},{"k":3,"w":2832,"v":244},{"k":4,"w":2832,"v":243},{"k":5,"w":2832,"v":241},{"k":6,"w":2832,"v":240},{"k":7,"w":2832,"v":239},{"k":8,"w":2832,"v":238},{"k":9,"w":2832,"v":237},{"k":10,"w":2832,"v":236},{"k":11,"w":2832,"v":234},
{"k":0,"w":2841,"v":263},{"k":1,"w":2841,"v":247},{"k":2,"w":2841,"v":237},{"k":3,"w":2841,"v":231},{"k":4,"w":2841,"v":228},{"k":5,"w":2841,"v":226},{"k":6,"w":2841,"v":224},{"k":7,"w":2841,"v":223},{"k":8,"w":2841,"v":221},{"k":9,"w":2841,"v":220},{"k":10,"w":2841,"v":218},{"k":11,"w":2841,"v":212},
{"k":0,"w":2849,"v":261},{"k":1,"w":2849,"v":246},{"k":2,"w":2849,"v":230},{"k":3,"w":2849,"v":221},{"k":4,"w":2849,"v":217},{"k":5,"w":2849,"v":213},{"k":6,"w":2849,"v":210},{"k":7,"w":2849,"v":207},{"k":8,"w":2849,"v":205},{"k":9,"w":2849,"v":203},{"k":10,"w":2849,"v":201},{"k":11,"w":2849,"v":188},
{"k":0,"w":2856,"v":262},{"k":1,"w":2856,"v":244},{"k":2,"w":2856,"v":227},{"k":3,"w":2856,"v":218},{"k":4,"w":2856,"v":214},{"k":5,"w":2856,"v":207},{"k":6,"w":2856,"v":203},{"k":7,"w":2856,"v":201},{"k":8,"w":2856,"v":199},{"k":9,"w":2856,"v":197},{"k":10,"w":2856,"v":194},{"k":11,"w":2856,"v":178},
{"k":0,"w":2862,"v":263},{"k":1,"w":2862,"v":246},{"k":2,"w":2862,"v":230},{"k":3,"w":2862,"v":221},{"k":4,"w":2862,"v":218},{"k":5,"w":2862,"v":213},{"k":6,"w":2862,"v":210},{"k":7,"w":2862,"v":207},{"k":8,"w":2862,"v":205},{"k":9,"w":2862,"v":204},{"k":10,"w":2862,"v":203},{"k":11,"w":2862,"v":192},
{"k":0,"w":2870,"v":264},{"k":1,"w":2870,"v":247},{"k":2,"w":2870,"v":234},{"k":3,"w":2870,"v":227},{"k":4,"w":2870,"v":225},{"k":5,"w":2870,"v":221},{"k":6,"w":2870,"v":220},{"k":7,"w":2870,"v":218},{"k":8,"w":2870,"v":217},{"k":9,"w":2870,"v":216},{"k":10,"w":2870,"v":216},{"k":11,"w":2870,"v":212},
{"k":0,"w":2876,"v":263},{"k":1,"w":2876,"v":247},{"k":2,"w":2876,"v":236},{"k":3,"w":2876,"v":231},{"k":4,"w":2876,"v":230},{"k":5,"w":2876,"v":228},{"k":6,"w":2876,"v":227},{"k":7,"w":2876,"v":227},{"k":8,"w":2876,"v":226},{"k":9,"w":2876,"v":225},{"k":10,"w":2876,"v":225},{"k":11,"w":2876,"v":223},
{"k":0,"w":2882,"v":264},{"k":1,"w":2882,"v":247},{"k":2,"w":2882,"v":238},{"k":3,"w":2882,"v":234},{"k":4,"w":2882,"v":234},{"k":5,"w":2882,"v":233},{"k":6,"w":2882,"v":232},{"k":7,"w":2882,"v":231},{"k":8,"w":2882,"v":230},{"k":9,"w":2882,"v":229},{"k":10,"w":2882,"v":229},{"k":11,"w":2882,"v":228},
{"k":0,"w":2890,"v":264},{"k":1,"w":2890,"v":247},{"k":2,"w":2890,"v":236},{"k":3,"w":2890,"v":233},{"k":4,"w":2890,"v":231},{"k":5,"w":2890,"v":229},{"k":6,"w":2890,"v":228},{"k":7,"w":2890,"v":227},{"k":8,"w":2890,"v":227},{"k":9,"w":2890,"v":226},{"k":10,"w":2890,"v":225},{"k":11,"w":2890,"v":223},
{"k":0,"w":2902,"v":263},{"k":1,"w":2902,"v":243},{"k":2,"w":2902,"v":230},{"k":3,"w":2902,"v":225},{"k":4,"w":2902,"v":223},{"k":5,"w":2902,"v":218},{"k":6,"w":2902,"v":216},{"k":7,"w":2902,"v":214},{"k":8,"w":2902,"v":212},{"k":9,"w":2902,"v":210},{"k":10,"w":2902,"v":207},{"k":11,"w":2902,"v":203},
{"k":0,"w":2911,"v":261},{"k":1,"w":2911,"v":239},{"k":2,"w":2911,"v":221},{"k":3,"w":2911,"v":213},{"k":4,"w":2911,"v":210},{"k":5,"w":2911,"v":202},{"k":6,"w":2911,"v":198},{"k":7,"w":2911,"v":195},{"k":8,"w":2911,"v":192},{"k":9,"w":2911,"v":189},{"k":10,"w":2911,"v":186},{"k":11,"w":2911,"v":177},
{"k":0,"w":2917,"v":257},{"k":1,"w":2917,"v":237},{"k":2,"w":2917,"v":215},{"k":3,"w":2917,"v":201},{"k":4,"w":2917,"v":197},{"k":5,"w":2917,"v":185},{"k":6,"w":2917,"v":179},{"k":7,"w":2917,"v":176},{"k":8,"w":2917,"v":172},{"k":9,"w":2917,"v":168},{"k":10,"w":2917,"v":164},{"k":11,"w":2917,"v":151},
{"k":0,"w":2924,"v":253},{"k":1,"w":2924,"v":236},{"k":2,"w":2924,"v":212},{"k":3,"w":2924,"v":194},{"k":4,"w":2924,"v":188},{"k":5,"w":2924,"v":175},{"k":6,"w":2924,"v":168},{"k":7,"w":2924,"v":164},{"k":8,"w":2924,"v":157},{"k":9,"w":2924,"v":153},{"k":10,"w":2924,"v":147},{"k":11,"w":2924,"v":129},
{"k":0,"w":2931,"v":257},{"k":1,"w":2931,"v":239},{"k":2,"w":2931,"v":214},{"k":3,"w":2931,"v":198},{"k":4,"w":2931,"v":192},{"k":5,"w":2931,"v":179},{"k":6,"w":2931,"v":173},{"k":7,"w":2931,"v":168},{"k":8,"w":2931,"v":163},{"k":9,"w":2931,"v":159},{"k":10,"w":2931,"v":153},{"k":11,"w":2931,"v":138},
{"k":0,"w":2938,"v":260},{"k":1,"w":2938,"v":243},{"k":2,"w":2938,"v":223},{"k":3,"w":2938,"v":212},{"k":4,"w":2938,"v":207},{"k":5,"w":2938,"v":199},{"k":6,"w":2938,"v":194},{"k":7,"w":2938,"v":191},{"k":8,"w":2938,"v":188},{"k":9,"w":2938,"v":185},{"k":10,"w":2938,"v":181},{"k":11,"w":2938,"v":173},
{"k":0,"w":2946,"v":263},{"k":1,"w":2946,"v":246},{"k":2,"w":2946,"v":228},{"k":3,"w":2946,"v":220},{"k":4,"w":2946,"v":216},{"k":5,"w":2946,"v":211},{"k":6,"w":2946,"v":208},{"k":7,"w":2946,"v":207},{"k":8,"w":2946,"v":205},{"k":9,"w":2946,"v":204},{"k":10,"w":2946,"v":203},{"k":11,"w":2946,"v":199},
{"k":0,"w":2953,"v":264},{"k":1,"w":2953,"v":247},{"k":2,"w":2953,"v":228},{"k":3,"w":2953,"v":220},{"k":4,"w":2953,"v":217},{"k":5,"w":2953,"v":212},{"k":6,"w":2953,"v":210},{"k":7,"w":2953,"v":208},{"k":8,"w":2953,"v":207},{"k":9,"w":2953,"v":205},{"k":10,"w":2953,"v":204},{"k":11,"w":2953,"v":201},
{"k":0,"w":2961,"v":261},{"k":1,"w":2961,"v":249},{"k":2,"w":2961,"v":230},{"k":3,"w":2961,"v":223},{"k":4,"w":2961,"v":220},{"k":5,"w":2961,"v":217},{"k":6,"w":2961,"v":215},{"k":7,"w":2961,"v":214},{"k":8,"w":2961,"v":213},{"k":9,"w":2961,"v":211},{"k":10,"w":2961,"v":210},{"k":11,"w":2961,"v":207},
{"k":0,"w":2968,"v":268},{"k":1,"w":2968,"v":256},{"k":2,"w":2968,"v":243},{"k":3,"w":2968,"v":239},{"k":4,"w":2968,"v":238},{"k":5,"w":2968,"v":236},{"k":6,"w":2968,"v":236},{"k":7,"w":2968,"v":234},{"k":8,"w":2968,"v":234},{"k":9,"w":2968,"v":234},{"k":10,"w":2968,"v":234},{"k":11,"w":2968,"v":234},
{"k":0,"w":2978,"v":273},{"k":1,"w":2978,"v":265},{"k":2,"w":2978,"v":259},{"k":3,"w":2978,"v":257},{"k":4,"w":2978,"v":257},{"k":5,"w":2978,"v":256},{"k":6,"w":2978,"v":256},{"k":7,"w":2978,"v":255},{"k":8,"w":2978,"v":255},{"k":9,"w":2978,"v":255},{"k":10,"w":2978,"v":255},{"k":11,"w":2978,"v":255},
{"k":0,"w":2990,"v":277},{"k":1,"w":2990,"v":273},{"k":2,"w":2990,"v":271},{"k":3,"w":2990,"v":269},{"k":4,"w":2990,"v":269},{"k":5,"w":2990,"v":269},{"k":6,"w":2990,"v":269},{"k":7,"w":2990,"v":269},{"k":8,"w":2990,"v":269},{"k":9,"w":2990,"v":271},{"k":10,"w":2990,"v":271},{"k":11,"w":2990,"v":271},
{"k":0,"w":3002,"v":281},{"k":1,"w":3002,"v":277},{"k":2,"w":3002,"v":275},{"k":3,"w":3002,"v":274},{"k":4,"w":3002,"v":274},{"k":5,"w":3002,"v":274},{"k":6,"w":3002,"v":274},{"k":7,"w":3002,"v":274},{"k":8,"w":3002,"v":274},{"k":9,"w":3002,"v":275},{"k":10,"w":3002,"v":275},{"k":11,"w":3002,"v":275},
{"k":0,"w":3017,"v":282},{"k":1,"w":3017,"v":278},{"k":2,"w":3017,"v":277},{"k":3,"w":3017,"v":277},{"k":4,"w":3017,"v":277},{"k":5,"w":3017,"v":277},{"k":6,"w":3017,"v":277},{"k":7,"w":3017,"v":278},{"k":8,"w":3017,"v":278},{"k":9,"w":3017,"v":279},{"k":10,"w":3017,"v":279},{"k":11,"w":3017,"v":279},
{"k":0,"w":3032,"v":286},{"k":1,"w":3032,"v":279},{"k":2,"w":3032,"v":279},{"k":3,"w":3032,"v":279},{"k":4,"w":3032,"v":279},{"k":5,"w":3032,"v":279},{"k":6,"w":3032,"v":279},{"k":7,"w":3032,"v":280},{"k":8,"w":3032,"v":281},{"k":9,"w":3032,"v":282},{"k":10,"w":3032,"v":282},{"k":11,"w":3032,"v":284},
{"k":0,"w":3048,"v":288},{"k":1,"w":3048,"v":281},{"k":2,"w":3048,"v":281},{"k":3,"w":3048,"v":281},{"k":4,"w":3048,"v":281},{"k":5,"w":3048,"v":281},{"k":6,"w":3048,"v":281},{"k":7,"w":3048,"v":284},{"k":8,"w":3048,"v":286},{"k":9,"w":3048,"v":288},{"k":10,"w":3048,"v":288},{"k":11,"w":3048,"v":290}
]
},
"columns":2,
"spacing":{"row":213,"column":60},
"bounds":"flush",
"resolve":{"scale":{"x":"independent","y":"independent","color":"independent"},"legend":{"color":"independent"}},
"concat":[
{
 "width":591,"height":229,
 "data":{"values":[{}]},
 "resolve":{"axis":{"x":"independent","y":"independent"}},
 "layer":[
  {"mark":{"type":"rule","color":"#2b6282","strokeWidth":2},"encoding":{"x":{"datum":147,"type":"quantitative","axis":null},"x2":{"datum":5740},"y":{"datum":1957,"type":"quantitative","axis":null}}},
  {"mark":{"type":"rule","color":"#2b6282","strokeWidth":2},"encoding":{"x":{"datum":147,"type":"quantitative","axis":null},"y":{"datum":1957,"type":"quantitative","axis":null},"y2":{"datum":-458}}},
  {"mark":{"type":"rule","color":"#2b6282","strokeWidth":2},"encoding":{"x":{"datum":147,"type":"quantitative","axis":null},"x2":{"datum":5740},"y":{"datum":-458,"type":"quantitative","axis":null}}},
  {"mark":{"type":"text","text":"a)","fontSize":30,"align":"left","baseline":"alphabetic"},"encoding":{"x":{"datum":233,"type":"quantitative","axis":null},"y":{"datum":1736,"type":"quantitative","axis":null}}},
  {"mark":{"type":"rect","color":"#08445c"},"encoding":{"x":{"datum":594,"type":"quantitative","axis":null},"x2":{"datum":1381},"y":{"datum":1928,"type":"quantitative","axis":null},"y2":{"datum":1448}}},
  {"mark":{"type":"text","text":["annealed","at 200°C"],"fontSize":29,"fontWeight":"bold","color":"white","align":"left","baseline":"alphabetic","lineHeight":36},"encoding":{"x":{"datum":627,"type":"quantitative","axis":null},"y":{"datum":1725,"type":"quantitative","axis":null}}},
  {"mark":{"type":"rect","color":"#d0d0d0"},"encoding":{"x":{"datum":2800,"type":"quantitative","axis":null},"x2":{"datum":3000},"y":{"datum":0,"type":"quantitative","axis":null},"y2":{"datum":1295}}},
  {"data":{"name":"bigA"},
   "transform":[{"lookup":"k","from":{"data":{"name":"namesA"},"key":"k","fields":["s"]}}],
   "mark":{"type":"line","clip":true,"strokeJoin":"round","strokeCap":"round"},
   "encoding":{
    "x":{"field":"w","type":"quantitative","scale":{"domain":[605,3790],"nice":false,"zero":false},
     "axis":{"orient":"bottom","values":[700,800,900,1000,1100,1200,1300,1400,1500,1600,1700,1800,1900,2000,2100,2200,2300,2400,2500,2600,2700,2800,2900,3000,3100,3200,3300,3400,3500,3600,3700],"format":"d","labelExpr":"datum.value % 500 === 0 ? datum.label : ''","title":"wavenumber [cm⁻¹]","tickSize":-7,"labelPadding":19,"titlePadding":2}},
    "y":{"field":"v","type":"quantitative","scale":{"domain":[0,1295],"nice":false,"zero":false},
     "axis":{"orient":"left","values":[100,200,300,400,500,600,700,800,900,1000,1100,1200],"labels":false,"title":"rel. transmission","tickSize":-7,"titlePadding":14}},
    "color":{"field":"s","type":"nominal",
     "scale":{"domain":["19 min","79 min","139 min","200 min","260 min","320 min","380 min","440 min","500 min","560 min","620 min","990 min"],"range":["#ec0c84","#f4413c","#f07f2c","#e6ac32","#e3d936","#a6e23a","#12cf12","#1ad28e","#19c6cc","#1aa5f2","#2c4bf0","#7010d8"]},
     "legend":{"orient":"none","legendX":199,"legendY":-114,"columns":4,"direction":"horizontal","title":null,"symbolType":"stroke","symbolSize":4761,"symbolStrokeWidth":4,"labelFontSize":28,"labelFont":"Liberation Sans","labelColor":"black","labelOffset":5,"columnPadding":10,"rowPadding":3,"clipHeight":34,"strokeColor":"black","padding":0}},
    "strokeWidth":{"condition":{"test":"datum.k === 11","value":5},"value":3.5}
   }},
  {"mark":{"type":"point","opacity":0},"encoding":{
    "x":{"datum":1000,"type":"quantitative","axis":{"orient":"top","values":[700,800,900,1000,1100,1200,1300,1400,1500,1600,1700,1800,1900,2000,2100,2200,2300,2400,2500,2600,2700,2800,2900,3000,3100,3200,3300,3400,3500,3600,3700],"labels":false,"title":null,"tickSize":-7}},
    "y":{"datum":500,"type":"quantitative","axis":{"orient":"right","values":[100,200,300,400,500,600,700,800,900,1000,1100,1200],"labels":false,"title":null,"tickSize":-7}}}},
  {"mark":{"type":"point","opacity":0},"encoding":{
    "x":{"datum":1000,"type":"quantitative","axis":{"orient":"bottom","values":[1000,1500,2000,2500,3000,3500],"labels":false,"title":null,"tickSize":-12}},
    "y":{"datum":500,"type":"quantitative","axis":{"orient":"left","values":[500,1000],"labels":false,"title":null,"tickSize":-12}}}},
  {"mark":{"type":"point","opacity":0},"encoding":{
    "x":{"datum":1000,"type":"quantitative","axis":{"orient":"top","values":[1000,1500,2000,2500,3000,3500],"labels":false,"title":null,"tickSize":-12}},
    "y":{"datum":500,"type":"quantitative","axis":{"orient":"right","values":[500,1000],"labels":false,"title":null,"tickSize":-12}}}},
  {"mark":{"type":"rect","fill":"white","stroke":"black","strokeWidth":1.5},"encoding":{"x":{"datum":2615,"type":"quantitative","axis":null},"x2":{"datum":2932},"y":{"datum":1212,"type":"quantitative","axis":null},"y2":{"datum":973}}},
  {"mark":{"type":"text","text":"C-H","align":"center","baseline":"middle"},"encoding":{"x":{"datum":2773,"type":"quantitative","axis":null},"y":{"datum":1092,"type":"quantitative","axis":null}}},
  {"mark":{"type":"rule","color":"black","strokeWidth":2},"encoding":{"x":{"datum":3702,"type":"quantitative","axis":null},"y":{"datum":1010,"type":"quantitative","axis":null},"y2":{"datum":479}}},
  {"mark":{"type":"point","shape":"M0,0L0.35,1.7L-0.35,1.7Z","size":400,"filled":true,"color":"black","opacity":1},"encoding":{"x":{"datum":3702,"type":"quantitative","axis":null},"y":{"datum":1020,"type":"quantitative","axis":null}}},
  {"mark":{"type":"point","shape":"M0,0L0.35,-1.7L-0.35,-1.7Z","size":400,"filled":true,"color":"black","opacity":1},"encoding":{"x":{"datum":3702,"type":"quantitative","axis":null},"y":{"datum":469,"type":"quantitative","axis":null}}},
  {"mark":{"type":"text","text":"0.5 %","align":"right","baseline":"middle"},"encoding":{"x":{"datum":3663,"type":"quantitative","axis":null},"y":{"datum":639,"type":"quantitative","axis":null}}}
 ]
},
{
 "width":273,"height":229,
 "data":{"values":[{}]},
 "resolve":{"axis":{"x":"independent","y":"independent"}},
 "layer":[
  {"data":{"name":"smallA"},
   "transform":[{"lookup":"k","from":{"data":{"name":"namesA"},"key":"k","fields":["s"]}}],
   "mark":{"type":"line","clip":true,"strokeJoin":"round","strokeCap":"round"},
   "encoding":{
    "x":{"field":"w","type":"quantitative","scale":{"domain":[2800,3048],"nice":false,"zero":false},
     "axis":{"orient":"bottom","values":[2820,2840,2860,2880,2900,2920,2940,2960,2980,3000,3020,3040],"format":"d","labelExpr":"(datum.value - 2820) % 100 === 0 ? datum.label : ''","title":"wavenumber [cm⁻¹]","tickSize":-7,"labelPadding":19,"titlePadding":2}},
    "y":{"field":"v","type":"quantitative","scale":{"domain":[30,330],"nice":false,"zero":false},
     "axis":{"orient":"left","values":[50,100,150,200,250,300],"labels":false,"title":"rel. transmission","tickSize":-8,"titlePadding":14}},
    "color":{"field":"s","type":"nominal",
     "scale":{"domain":["19 min","79 min","139 min","200 min","260 min","320 min","380 min","440 min","500 min","560 min","620 min","990 min"],"range":["#ec0c84","#f4413c","#f07f2c","#e6ac32","#e3d936","#a6e23a","#12cf12","#1ad28e","#19c6cc","#1aa5f2","#2c4bf0","#7010d8"]},
     "legend":null},
    "strokeWidth":{"condition":{"test":"datum.k === 11","value":5},"value":4}
   }},
  {"mark":{"type":"point","opacity":0},"encoding":{
    "x":{"datum":2900,"type":"quantitative","axis":{"orient":"top","values":[2820,2840,2860,2880,2900,2920,2940,2960,2980,3000,3020,3040],"labels":false,"title":null,"tickSize":-7}},
    "y":{"datum":100,"type":"quantitative","axis":{"orient":"right","values":[50,100,150,200,250,300],"labels":false,"title":null,"tickSize":-8}}}},
  {"mark":{"type":"point","opacity":0},"encoding":{
    "x":{"datum":2900,"type":"quantitative","axis":{"orient":"bottom","values":[2820,2920,3020],"labels":false,"title":null,"tickSize":-11}},
    "y":{"datum":100,"type":"quantitative","axis":null}}},
  {"mark":{"type":"point","opacity":0},"encoding":{
    "x":{"datum":2900,"type":"quantitative","axis":{"orient":"top","values":[2820,2920,3020],"labels":false,"title":null,"tickSize":-11}},
    "y":{"datum":100,"type":"quantitative","axis":null}}},
  {"mark":{"type":"rule","color":"black","strokeWidth":2},"encoding":{"x":{"datum":3036,"type":"quantitative","axis":null},"y":{"datum":200,"type":"quantitative","axis":null},"y2":{"datum":99}}},
  {"mark":{"type":"point","shape":"M0,0L0.35,1.7L-0.35,1.7Z","size":400,"filled":true,"color":"black","opacity":1},"encoding":{"x":{"datum":3036,"type":"quantitative","axis":null},"y":{"datum":205,"type":"quantitative","axis":null}}},
  {"mark":{"type":"point","shape":"M0,0L0.35,-1.7L-0.35,-1.7Z","size":400,"filled":true,"color":"black","opacity":1},"encoding":{"x":{"datum":3036,"type":"quantitative","axis":null},"y":{"datum":94,"type":"quantitative","axis":null}}},
  {"mark":{"type":"text","text":"0.1 %","align":"right","baseline":"middle"},"encoding":{"x":{"datum":3032,"type":"quantitative","axis":null},"y":{"datum":146,"type":"quantitative","axis":null}}}
 ]
},
{
 "width":591,"height":229,
 "data":{"values":[{}]},
 "resolve":{"axis":{"x":"independent","y":"independent"}},
 "layer":[
  {"mark":{"type":"rule","color":"#2b6282","strokeWidth":2},"encoding":{"x":{"datum":147,"type":"quantitative","axis":null},"x2":{"datum":5740},"y":{"datum":2153,"type":"quantitative","axis":null}}},
  {"mark":{"type":"rule","color":"#2b6282","strokeWidth":2},"encoding":{"x":{"datum":147,"type":"quantitative","axis":null},"y":{"datum":2153,"type":"quantitative","axis":null},"y2":{"datum":-332}}},
  {"mark":{"type":"text","text":"b)","fontSize":30,"align":"left","baseline":"alphabetic"},"encoding":{"x":{"datum":233,"type":"quantitative","axis":null},"y":{"datum":1911,"type":"quantitative","axis":null}}},
  {"mark":{"type":"rect","color":"#08445c"},"encoding":{"x":{"datum":594,"type":"quantitative","axis":null},"x2":{"datum":1381},"y":{"datum":2112,"type":"quantitative","axis":null},"y2":{"datum":1609}}},
  {"mark":{"type":"text","text":["annealed","at 400°C"],"fontSize":29,"fontWeight":"bold","color":"white","align":"left","baseline":"alphabetic","lineHeight":36},"encoding":{"x":{"datum":627,"type":"quantitative","axis":null},"y":{"datum":1899,"type":"quantitative","axis":null}}},
  {"mark":{"type":"rect","color":"#d0d0d0"},"encoding":{"x":{"datum":2800,"type":"quantitative","axis":null},"x2":{"datum":3000},"y":{"datum":100,"type":"quantitative","axis":null},"y2":{"datum":1455}}},
  {"data":{"name":"bigB"},
   "transform":[{"lookup":"k","from":{"data":{"name":"namesB"},"key":"k","fields":["s"]}}],
   "mark":{"type":"line","clip":true,"strokeJoin":"round","strokeCap":"round"},
   "encoding":{
    "x":{"field":"w","type":"quantitative","scale":{"domain":[605,3790],"nice":false,"zero":false},
     "axis":{"orient":"bottom","values":[700,800,900,1000,1100,1200,1300,1400,1500,1600,1700,1800,1900,2000,2100,2200,2300,2400,2500,2600,2700,2800,2900,3000,3100,3200,3300,3400,3500,3600,3700],"format":"d","labelExpr":"datum.value % 500 === 0 ? datum.label : ''","title":"wavenumber [cm⁻¹]","tickSize":-7,"labelPadding":19,"titlePadding":2}},
    "y":{"field":"v","type":"quantitative","scale":{"domain":[100,1455],"nice":false,"zero":false},
     "axis":{"orient":"left","values":[200,300,400,500,600,700,800,900,1000,1100,1200,1300,1400],"labels":false,"title":"rel. transmission","tickSize":-7,"titlePadding":14}},
    "color":{"field":"s","type":"nominal",
     "scale":{"domain":["15 min","75 min","135 min","195 min","255 min","315 min","376 min","436 min","496 min","556 min","616 min","986 min"],"range":["#ec0c84","#f4413c","#f07f2c","#e6ac32","#e3d936","#a6e23a","#12cf12","#1ad28e","#19c6cc","#1aa5f2","#2c4bf0","#7010d8"]},
     "legend":{"orient":"none","legendX":199,"legendY":-115,"columns":4,"direction":"horizontal","title":null,"symbolType":"stroke","symbolSize":4761,"symbolStrokeWidth":4,"labelFontSize":28,"labelFont":"Liberation Sans","labelColor":"black","labelOffset":5,"columnPadding":10,"rowPadding":3,"clipHeight":34,"strokeColor":"black","padding":0}},
    "strokeWidth":{"condition":{"test":"datum.k === 11","value":5},"value":3.5}
   }},
  {"mark":{"type":"point","opacity":0},"encoding":{
    "x":{"datum":1000,"type":"quantitative","axis":{"orient":"top","values":[700,800,900,1000,1100,1200,1300,1400,1500,1600,1700,1800,1900,2000,2100,2200,2300,2400,2500,2600,2700,2800,2900,3000,3100,3200,3300,3400,3500,3600,3700],"labels":false,"title":null,"tickSize":-7}},
    "y":{"datum":500,"type":"quantitative","axis":{"orient":"right","values":[200,300,400,500,600,700,800,900,1000,1100,1200,1300,1400],"labels":false,"title":null,"tickSize":-7}}}},
  {"mark":{"type":"point","opacity":0},"encoding":{
    "x":{"datum":1000,"type":"quantitative","axis":{"orient":"bottom","values":[1000,1500,2000,2500,3000,3500],"labels":false,"title":null,"tickSize":-12}},
    "y":{"datum":500,"type":"quantitative","axis":{"orient":"left","values":[500,1000],"labels":false,"title":null,"tickSize":-12}}}},
  {"mark":{"type":"point","opacity":0},"encoding":{
    "x":{"datum":1000,"type":"quantitative","axis":{"orient":"top","values":[1000,1500,2000,2500,3000,3500],"labels":false,"title":null,"tickSize":-12}},
    "y":{"datum":500,"type":"quantitative","axis":{"orient":"right","values":[500,1000],"labels":false,"title":null,"tickSize":-12}}}},
  {"mark":{"type":"rect","fill":"white","stroke":"black","strokeWidth":1.5},"encoding":{"x":{"datum":2572,"type":"quantitative","axis":null},"x2":{"datum":2890},"y":{"datum":1057,"type":"quantitative","axis":null},"y2":{"datum":804}}},
  {"mark":{"type":"text","text":"C-H","align":"center","baseline":"middle"},"encoding":{"x":{"datum":2731,"type":"quantitative","axis":null},"y":{"datum":930,"type":"quantitative","axis":null}}},
  {"mark":{"type":"rule","color":"black","strokeWidth":2},"encoding":{"x":{"datum":3731,"type":"quantitative","axis":null},"y":{"datum":1011,"type":"quantitative","axis":null},"y2":{"datum":489}}},
  {"mark":{"type":"point","shape":"M0,0L0.35,1.7L-0.35,1.7Z","size":400,"filled":true,"color":"black","opacity":1},"encoding":{"x":{"datum":3731,"type":"quantitative","axis":null},"y":{"datum":1021,"type":"quantitative","axis":null}}},
  {"mark":{"type":"point","shape":"M0,0L0.35,-1.7L-0.35,-1.7Z","size":400,"filled":true,"color":"black","opacity":1},"encoding":{"x":{"datum":3731,"type":"quantitative","axis":null},"y":{"datum":479,"type":"quantitative","axis":null}}},
  {"mark":{"type":"text","text":"0.5%","align":"right","baseline":"middle"},"encoding":{"x":{"datum":3706,"type":"quantitative","axis":null},"y":{"datum":764,"type":"quantitative","axis":null}}}
 ]
},
{
 "width":273,"height":229,
 "data":{"values":[{}]},
 "resolve":{"axis":{"x":"independent","y":"independent"}},
 "layer":[
  {"data":{"name":"smallB"},
   "transform":[{"lookup":"k","from":{"data":{"name":"namesB"},"key":"k","fields":["s"]}}],
   "mark":{"type":"line","clip":true,"strokeJoin":"round","strokeCap":"round"},
   "encoding":{
    "x":{"field":"w","type":"quantitative","scale":{"domain":[2800,3048],"nice":false,"zero":false},
     "axis":{"orient":"bottom","values":[2820,2840,2860,2880,2900,2920,2940,2960,2980,3000,3020,3040],"format":"d","labelExpr":"(datum.value - 2820) % 100 === 0 ? datum.label : ''","title":"wavenumber [cm⁻¹]","tickSize":-7,"labelPadding":19,"titlePadding":2}},
    "y":{"field":"v","type":"quantitative","scale":{"domain":[30,330],"nice":false,"zero":false},
     "axis":{"orient":"left","values":[50,100,150,200,250,300],"labels":false,"title":"rel. transmission","tickSize":-8,"titlePadding":14}},
    "color":{"field":"s","type":"nominal",
     "scale":{"domain":["15 min","75 min","135 min","195 min","255 min","315 min","376 min","436 min","496 min","556 min","616 min","986 min"],"range":["#ec0c84","#f4413c","#f07f2c","#e6ac32","#e3d936","#a6e23a","#12cf12","#1ad28e","#19c6cc","#1aa5f2","#2c4bf0","#7010d8"]},
     "legend":null},
    "strokeWidth":{"condition":{"test":"datum.k === 11","value":5},"value":4}
   }},
  {"mark":{"type":"point","opacity":0},"encoding":{
    "x":{"datum":2900,"type":"quantitative","axis":{"orient":"top","values":[2820,2840,2860,2880,2900,2920,2940,2960,2980,3000,3020,3040],"labels":false,"title":null,"tickSize":-7}},
    "y":{"datum":100,"type":"quantitative","axis":{"orient":"right","values":[50,100,150,200,250,300],"labels":false,"title":null,"tickSize":-8}}}},
  {"mark":{"type":"point","opacity":0},"encoding":{
    "x":{"datum":2900,"type":"quantitative","axis":{"orient":"bottom","values":[2820,2920,3020],"labels":false,"title":null,"tickSize":-11}},
    "y":{"datum":100,"type":"quantitative","axis":null}}},
  {"mark":{"type":"point","opacity":0},"encoding":{
    "x":{"datum":2900,"type":"quantitative","axis":{"orient":"top","values":[2820,2920,3020],"labels":false,"title":null,"tickSize":-11}},
    "y":{"datum":100,"type":"quantitative","axis":null}}},
  {"mark":{"type":"rule","color":"black","strokeWidth":2},"encoding":{"x":{"datum":3032,"type":"quantitative","axis":null},"y":{"datum":202,"type":"quantitative","axis":null},"y2":{"datum":97}}},
  {"mark":{"type":"point","shape":"M0,0L0.35,1.7L-0.35,1.7Z","size":400,"filled":true,"color":"black","opacity":1},"encoding":{"x":{"datum":3032,"type":"quantitative","axis":null},"y":{"datum":207,"type":"quantitative","axis":null}}},
  {"mark":{"type":"point","shape":"M0,0L0.35,-1.7L-0.35,-1.7Z","size":400,"filled":true,"color":"black","opacity":1},"encoding":{"x":{"datum":3032,"type":"quantitative","axis":null},"y":{"datum":92,"type":"quantitative","axis":null}}},
  {"mark":{"type":"text","text":"0.1 %","align":"right","baseline":"middle"},"encoding":{"x":{"datum":3027,"type":"quantitative","axis":null},"y":{"datum":146,"type":"quantitative","axis":null}}}
 ]
}
]
}
